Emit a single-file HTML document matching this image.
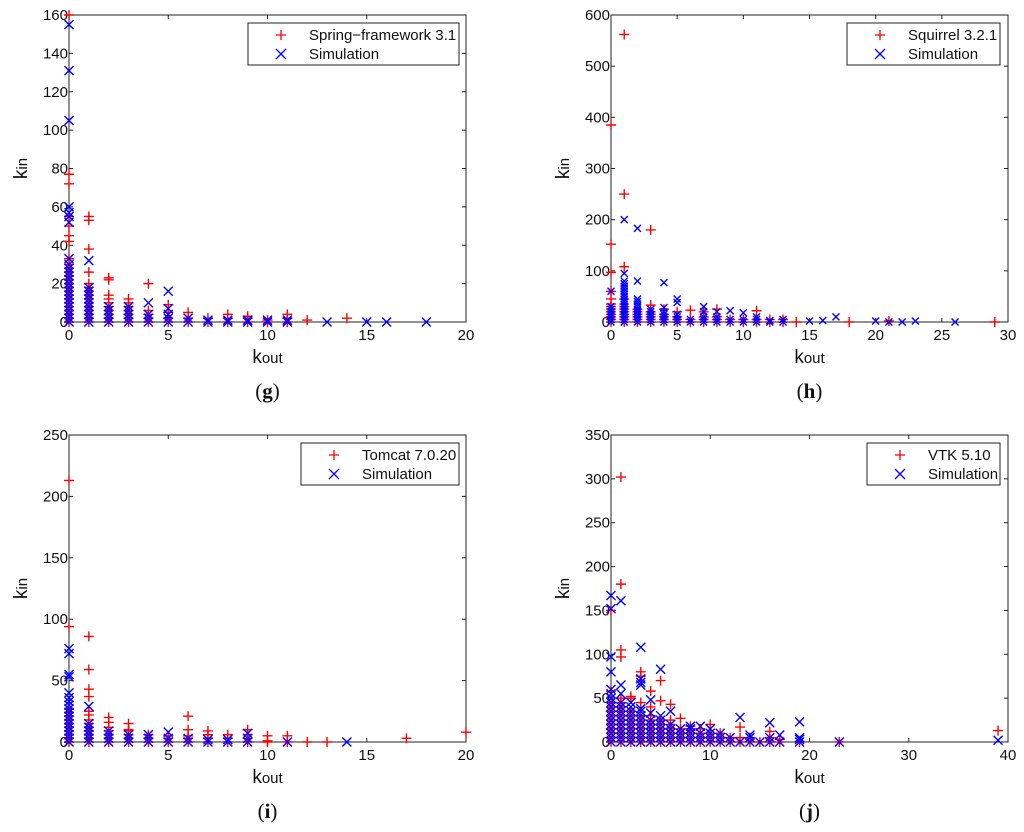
<!DOCTYPE html>
<html><head><meta charset="utf-8">
<style>
html,body{margin:0;padding:0;background:#fff;}
svg{display:block;font-family:"Liberation Sans",Arial,sans-serif;}
</style></head>
<body>
<svg id="fig" width="1024" height="832" viewBox="0 0 1024 832" xmlns="http://www.w3.org/2000/svg"></svg>
<script>
// ---------- Panel g: Spring-framework 3.1 ----------
const gRealX=[0,1,2,3,4,5,6,7,8,9,10,11,12,14];
const gRealY=[[0,2,4,6,8,10,12,14,16,18,20,22,24,26,28,30,33,42,45,50,55,72,77,160],[0,2,4,6,8,10,12,14,16,18,20,26,38,53,55],[0,2,4,6,8,10,12,14,22,23],[0,2,4,6,8,10,12],[0,2,4,6,20],[0,2,5,9],[0,2,5],[0,2],[0,2,4],[0,2,3],[0,1],[0,2,4],[1],[2]];
const gSimX=[0,1,2,3,4,5,6,7,8,9,10,11,13,15,16,18];
const gSimY=[[0,2,4,6,8,10,12,14,16,18,20,22,24,26,28,30,33,52,55,57,60,105,131,155],[0,2,4,6,8,10,12,14,16,18,32],[0,2,4,6,8],[0,2,4,6,8],[0,2,4,10],[0,2,4,7,16],[0,2],[0,1],[0,1],[0,1],[0,1],[0,1],[0],[0],[0],[0]];
const gXTicks=[0,5,10,15,20];
const gYTicks=[0,20,40,60,80,100,120,140,160];
// ---------- Panel h: Squirrel 3.2.1 ----------
const hRealX=[0,1,2,3,4,5,6,7,8,9,10,11,12,13,14,18,21,29];
const hRealY=[[0,5,10,15,20,25,30,35,45,60,97,152,385],[0,5,10,15,20,25,30,35,45,108,250,562],[0,5,10,15,20,25],[0,5,10,15,20,33,180],[0,5,10,15,25],[0,5,10,20],[0,5,23],[0,5,10,20],[0,5,10,25],[0,5],[0,5],[0,5,22],[0,5],[0,5],[0],[0],[2],[0]];
const hSimX=[0,1,2,3,4,5,6,7,8,9,10,11,12,13,15,16,17,20,21,22,23,26];
const hSimY=[[0,5,10,15,20,25,30,60],[0,5,10,15,20,25,30,35,40,45,50,55,60,65,70,75,80,95,200],[0,5,10,15,20,25,30,35,40,45,80,183],[0,5,10,15,20,25],[0,5,10,15,20,28,77],[0,5,10,15,38,45],[0,5],[0,5,10,20,30],[0,5,10,20],[0,5,22],[0,5,18],[0,5,10],[0,3],[0,5],[2],[3],[10],[2],[0],[0],[2],[0]];
const hXTicks=[0,5,10,15,20,25,30];
const hYTicks=[0,100,200,300,400,500,600];
// ---------- Panel i: Tomcat 7.0.20 ----------
const iRealX=[0,1,2,3,4,5,6,7,8,9,10,11,12,13,17,20];
const iRealY=[[0,3,6,9,12,15,18,21,24,27,94,213],[0,3,6,9,12,15,18,22,25,37,43,59,86],[0,3,6,9,12,16,20],[0,3,6,9,10,15],[0,3,6],[0,3,5],[0,3,5,10,21],[0,3,6,9],[0,3,6],[0,3,6,10],[0,1,5],[0,5],[0],[0],[3],[8]];
const iSimX=[0,1,2,3,4,5,6,7,8,9,11,14];
const iSimY=[[0,3,6,9,12,15,18,21,24,27,30,33,36,40,53,55,72,76],[0,3,6,9,12,15,29],[0,3,6,9],[0,3,6],[0,3,6],[0,3,8],[0,3],[0,2],[0,2],[0,3,7],[0],[0]];
const iXTicks=[0,5,10,15,20];
const iYTicks=[0,50,100,150,200,250];
// ---------- Panel j: VTK 5.10 ----------
const jRealX=[0,1,2,3,4,5,6,7,8,9,10,11,12,13,14,15,16,17,19,23,39];
const jRealY=[[0,5,10,15,20,25,30,35,40,45,58,150],[0,5,10,15,20,25,30,35,40,45,50,97,105,180,302],[0,5,10,15,20,25,30,35,50,52],[0,5,10,15,20,25,30,45,75,80],[0,5,10,15,20,25,30,40,58],[0,5,10,15,20,25,47,70],[0,5,10,15,20,25,43],[0,5,10,15,27],[0,5,10,15,18],[0,5,10,15],[0,5,10,20],[0,5,10],[0,5],[0,5,17],[0,5],[0],[0,5,12],[0,3],[0],[0],[13]];
const jSimX=[0,1,2,3,4,5,6,7,8,9,10,11,12,13,14,15,16,17,19,23,39];
const jSimY=[[0,5,10,15,20,25,30,35,40,45,50,55,60,80,97,152,167],[0,5,10,15,20,25,30,35,40,45,55,65,161],[0,5,10,15,20,25,30,35,40,45],[0,5,10,15,20,25,30,35,38,65,68,72,108],[0,5,10,15,20,25,33,48],[0,5,10,15,20,25,30,83],[0,5,10,15,20,35],[0,5,10,15],[0,5,10,15,18],[0,5,10,18],[0,5,10,15],[0,5,10],[0,5],[0,28],[0,5,8],[0],[0,5,22],[0,8],[0,3,5,23],[0],[2]];
const jXTicks=[0,10,20,30,40];
const jYTicks=[0,50,100,150,200,250,300,350];

const NS="http://www.w3.org/2000/svg";
const svg=document.getElementById('fig');
function mk(tag,attrs,parent){const e=document.createElementNS(NS,tag);for(const k in attrs)e.setAttribute(k,attrs[k]);(parent||svg).appendChild(e);return e;}

function panel(p){
  const g=mk('g',{});
  
  
  const L=p.L,R=p.R,T=p.T,B=p.B;
  const sx=v=>L+(v-p.xmin)/(p.xmax-p.xmin)*(R-L);
  const sy=v=>B-(v-p.ymin)/(p.ymax-p.ymin)*(B-T);
  const frame=mk('rect',{x:L,y:T,width:R-L,height:B-T,fill:'#fff',stroke:'#222','stroke-width':1},g);
  
  
  p.xt.forEach(v=>{const x=sx(v);
    mk('line',{x1:x,y1:B,x2:x,y2:B-4,stroke:'#222'},g);
    mk('line',{x1:x,y1:T,x2:x,y2:T+4,stroke:'#222'},g);
    const t=mk('text',{x:x,y:B+18,'font-size':15,'text-anchor':'middle',fill:'#111'},g);
    t.textContent=v;
    
    
  });
  p.yt.forEach(v=>{const y=sy(v);
    mk('line',{x1:L,y1:y,x2:L+4,y2:y,stroke:'#222'},g);
    mk('line',{x1:R,y1:y,x2:R-4,y2:y,stroke:'#222'},g);
    const t=mk('text',{x:L-1,y:y+5,'font-size':15,'text-anchor':'end',fill:'#111'},g);
    t.textContent=v;
    
    
  });
  const red=mk('g',{stroke:'#ff0000','stroke-width':1.4,fill:'none'},g);
  
  
  p.rx.forEach((xv,i)=>p.ry[i].forEach(yv=>{const x=sx(xv),y=sy(yv),s=p.ps;
    mk('path',{d:`M${x-s} ${y}H${x+s}M${x} ${y-s}V${y+s}`},red);}));
  const blue=mk('g',{stroke:'#0000ff','stroke-width':1.4,fill:'none'},g);
  
  
  p.bx.forEach((xv,i)=>p.by[i].forEach(yv=>{const x=sx(xv),y=sy(yv),s=p.xs;
    mk('path',{d:`M${x-s} ${y-s}L${x+s} ${y+s}M${x-s} ${y+s}L${x+s} ${y-s}`},blue);}));
  const lg=mk('g',{},g);
  
  
  mk('rect',{x:p.lx,y:T+8,width:p.lw,height:42,fill:'#fff',stroke:'#222','stroke-width':1},lg);
  const mx=p.lx+33,y1=T+20,y2=T+39;
  mk('path',{d:`M${mx-5} ${y1}H${mx+5}M${mx} ${y1-5}V${y1+5}`,stroke:'#ff0000','stroke-width':1.3,fill:'none'},lg);
  mk('path',{d:`M${mx-5} ${y2-5}L${mx+5} ${y2+5}M${mx-5} ${y2+5}L${mx+5} ${y2-5}`,stroke:'#0000ff','stroke-width':1.3,fill:'none'},lg);
  const t1=mk('text',{x:p.lx+61,y:y1+5,'font-size':15,fill:'#111'},lg);t1.textContent=p.name;
  
  
  const t2=mk('text',{x:p.lx+61,y:y2+5,'font-size':15,fill:'#111'},lg);t2.textContent='Simulation';
  
  
  const cx=(L+R)/2;
  const xl=mk('text',{x:cx,y:B+41,'font-size':19,'text-anchor':'middle',fill:'#111'},g);
  xl.innerHTML='k<tspan font-size="15">out</tspan>';
  
  
  const yl=mk('text',{x:0,y:0,'font-size':19,'text-anchor':'middle',fill:'#111',transform:`translate(${L-42},${(T+B)/2}) rotate(-90)`},g);
  yl.innerHTML='k<tspan font-size="15">in</tspan>';
  
  
  const cap=mk('text',{x:cx,y:B+76,'font-size':21,'text-anchor':'middle',fill:'#111','font-family':'Liberation Serif,serif'},g);
  cap.innerHTML='(<tspan font-weight="bold">'+p.id+'</tspan>)';
  
  
}

panel({id:'g',L:69,R:466,T:15,B:322,xmin:0,xmax:20,ymin:0,ymax:160,xt:gXTicks,yt:gYTicks,rx:gRealX,ry:gRealY,bx:gSimX,by:gSimY,ps:5,xs:4.5,lx:248,lw:211,name:'Spring\u2212framework 3.1'});
panel({id:'h',L:611,R:1008,T:15,B:322,xmin:0,xmax:30,ymin:0,ymax:600,xt:hXTicks,yt:hYTicks,rx:hRealX,ry:hRealY,bx:hSimX,by:hSimY,ps:5,xs:3.5,lx:847,lw:153,name:'Squirrel 3.2.1'});
panel({id:'i',L:69,R:466,T:435,B:742,xmin:0,xmax:20,ymin:0,ymax:250,xt:iXTicks,yt:iYTicks,rx:iRealX,ry:iRealY,bx:iSimX,by:iSimY,ps:5,xs:4.5,lx:301,lw:158,name:'Tomcat 7.0.20'});
panel({id:'j',L:611,R:1008,T:435,B:742,xmin:0,xmax:40,ymin:0,ymax:350,xt:jXTicks,yt:jYTicks,rx:jRealX,ry:jRealY,bx:jSimX,by:jSimY,ps:5,xs:4.5,lx:867,lw:133,name:'VTK 5.10'});
</script>
</body></html>
